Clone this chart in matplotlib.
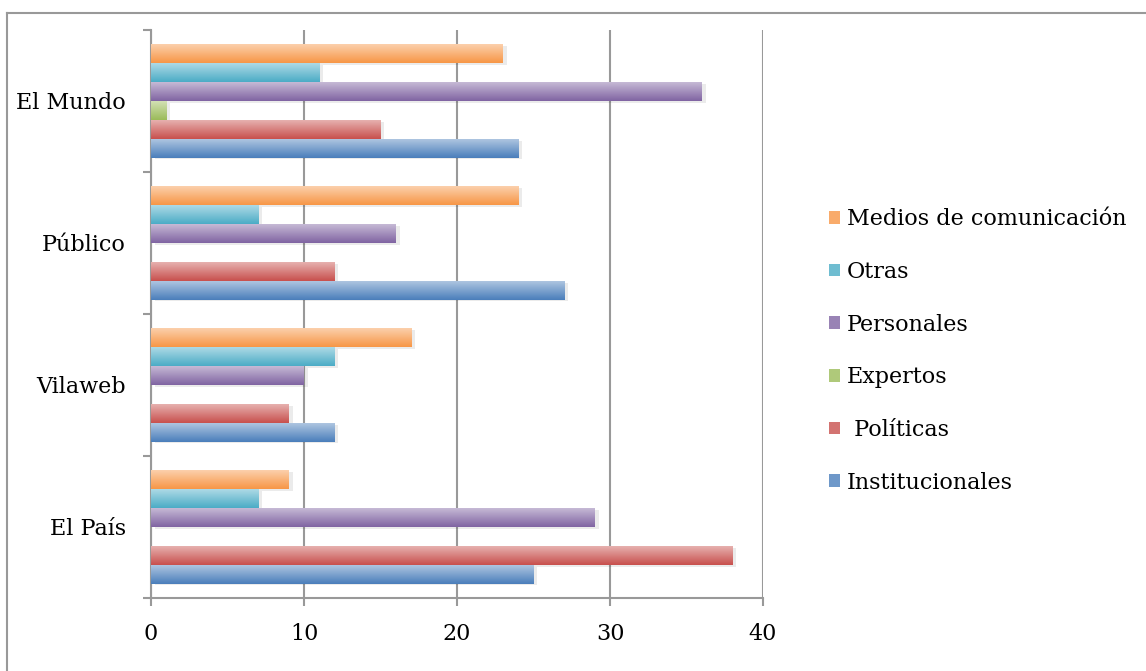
import numpy as np
import matplotlib.pyplot as plt
from matplotlib.colors import LinearSegmentedColormap, to_rgb
from matplotlib.patches import Patch
from matplotlib.lines import Line2D

plt.rcParams['font.family'] = ['DejaVu Serif']

# datos
medios = ['El País', 'Vilaweb', 'Público', 'El Mundo']
series = ['Institucionales', ' Políticas', 'Expertos', 'Personales', 'Otras',
          'Medios de comunicación']
institucionales = [25, 12, 27, 24]
politicas = [38, 9, 12, 15]
expertos = [0, 0, 0, 1]
personales = [29, 10, 16, 36]
otras = [7, 12, 7, 11]
medios_com = [9, 17, 24, 23]
valores = [institucionales, politicas, expertos, personales, otras, medios_com]
colores = ['#4a7ebb', '#c8504d', '#9bbb59', '#8064a2', '#4bacc6', '#f79646']


def aclarar(c, f):
    r, g, b = to_rgb(c)
    return (r + (1 - r) * f, g + (1 - g) * f, b + (1 - b) * f)


fig = plt.figure(figsize=(11.46, 6.71), dpi=100)
ax = fig.add_axes([0.1318, 0.1088, 0.534, 0.8465])

y = np.arange(len(medios))
alto = 0.8 / len(series)
for i, (nombre, vals, col) in enumerate(zip(series, valores, colores)):
    pos = y - 0.4 + alto * (i + 0.5)
    # sombra
    ax.barh(pos - 0.012, vals, height=alto, left=0.25, color='#000000',
            alpha=0.08, zorder=2)
    barras = ax.barh(pos, vals, height=alto, color=col, zorder=3)
    cmap = LinearSegmentedColormap.from_list('g' + str(i),
                                             [col, aclarar(col, 0.55)])
    for rect in barras:
        w = rect.get_width()
        if w <= 0:
            continue
        y0 = rect.get_y()
        im = ax.imshow(np.linspace(0, 1, 64)[:, None], cmap=cmap,
                       extent=[0, w, y0, y0 + alto], origin='lower',
                       aspect='auto', interpolation='bilinear', zorder=4)
        im.set_clip_path(rect)

ax.set_xlim(0, 40)
ax.set_ylim(-0.5, 3.5)
ax.set_xticks([0, 10, 20, 30, 40])
ax.set_yticks([-0.5, 0.5, 1.5, 2.5, 3.5])
ax.set_yticklabels([])
ax.set_yticks(y, minor=True)
ax.set_yticklabels(medios, minor=True)
ax.tick_params(axis='y', which='minor', length=0, pad=18, labelsize=16)
ax.tick_params(axis='y', which='major', length=6, width=1.5, color='#999999')
ax.tick_params(axis='x', length=6, width=1.5, color='#999999', pad=12,
               labelsize=16)
ax.grid(axis='x', color='#999999', lw=1.5, zorder=1)
for s in ['top', 'right']:
    ax.spines[s].set_visible(False)
for s in ['left', 'bottom']:
    ax.spines[s].set_color('#999999')
    ax.spines[s].set_linewidth(1.5)

handles = [Patch(facecolor=aclarar(c, 0.2), edgecolor='none') for c in colores]
fig.legend(handles[::-1], series[::-1], loc='center left',
           bbox_to_anchor=(0.706, 0.477), frameon=False, fontsize=16,
           handlelength=0.5, handleheight=0.5, handletextpad=0.3,
           labelspacing=1.38)

# marco exterior
fig.add_artist(Line2D([0.0065, 0.0065], [0, 0.981], transform=fig.transFigure,
                      color='#999999', lw=1.5))
fig.add_artist(Line2D([0.0065, 0.999], [0.981, 0.981], transform=fig.transFigure,
                      color='#999999', lw=1.5))

plt.savefig('out.png', dpi=100)
